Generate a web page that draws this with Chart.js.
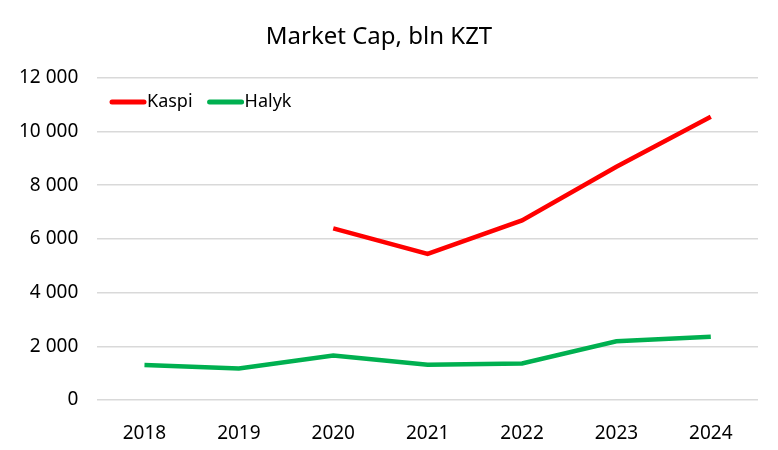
<!DOCTYPE html>
<html>
<head>
<meta charset="utf-8">
<script src="https://cdn.jsdelivr.net/npm/chart.js@4"></script>
<style>
  body { margin: 0; background: #fff; }
  #wrap { width: 778px; height: 450px; }
</style>
</head>
<body>
<div id="wrap"><canvas id="cap" width="778" height="450"></canvas></div>
<script>
const years = ['2018', '2019', '2020', '2021', '2022', '2023', '2024'];
const kaspi = [null, null, 6390, 5440, 6690, 8690, 10550];
const halyk = [1300, 1175, 1655, 1310, 1360, 2185, 2360];
const yTicks = [0, 2000, 4000, 6000, 8000, 10000, 12000];

const FONT = "'Noto Sans', sans-serif";

// legend drawn inside the plot area, top left
const innerLegend = {
    id: 'innerLegend',
    afterDraw(chart) {
        const ctx = chart.ctx;
        let x = 112;
        const y = 102;
        ctx.save();
        ctx.font = '18px ' + FONT;
        ctx.textBaseline = 'middle';
        chart.data.datasets.forEach(ds => {
            ctx.strokeStyle = ds.borderColor;
            ctx.lineWidth = 5;
            ctx.lineCap = 'round';
            ctx.beginPath();
            ctx.moveTo(x, y);
            ctx.lineTo(x + 32, y);
            ctx.stroke();
            ctx.fillStyle = '#000';
            ctx.fillText(ds.label, x + 35, y);
            x += 35 + ctx.measureText(ds.label).width + 17;
        });
        ctx.restore();
    }
};

new Chart(document.getElementById('cap').getContext('2d'), {
    type: 'line',
    data: {
        labels: years,
        datasets: [
            { label: 'Kaspi', data: kaspi, borderColor: '#ff0000', borderWidth: 4.5, pointRadius: 0, tension: 0 },
            { label: 'Halyk', data: halyk, borderColor: '#00b050', borderWidth: 4.5, pointRadius: 0, tension: 0 }
        ]
    },
    options: {
        responsive: false,
        animation: false,
        devicePixelRatio: 1,
        layout: { padding: { left: 0, right: 20, top: 0, bottom: 0 } },
        plugins: {
            legend: { display: false },
            tooltip: { enabled: false },
            title: {
                display: true,
                text: 'Market Cap, bln KZT',
                color: '#000',
                font: { family: FONT, size: 24, weight: 'normal' },
                padding: { top: 23, bottom: 26 }
            }
        },
        scales: {
            x: {
                offset: true,
                grid: { display: false },
                border: { display: false },
                afterFit: axis => { axis.height = 50; },
                ticks: { color: '#000', font: { family: FONT, size: 19 }, padding: 14 }
            },
            y: {
                min: 0,
                max: 12000,
                afterBuildTicks: axis => { axis.ticks = yTicks.map(v => ({ value: v })); },
                grid: { color: '#d9d9d9', lineWidth: 1.5, drawTicks: false },
                border: { display: false },
                ticks: {
                    color: '#000',
                    font: { family: FONT, size: 19 },
                    padding: 19,
                    callback: v => String(v).replace(/\B(?=(\d{3})+(?!\d))/g, ' ')
                }
            }
        }
    },
    plugins: [innerLegend]
});
</script>
</body>
</html>
